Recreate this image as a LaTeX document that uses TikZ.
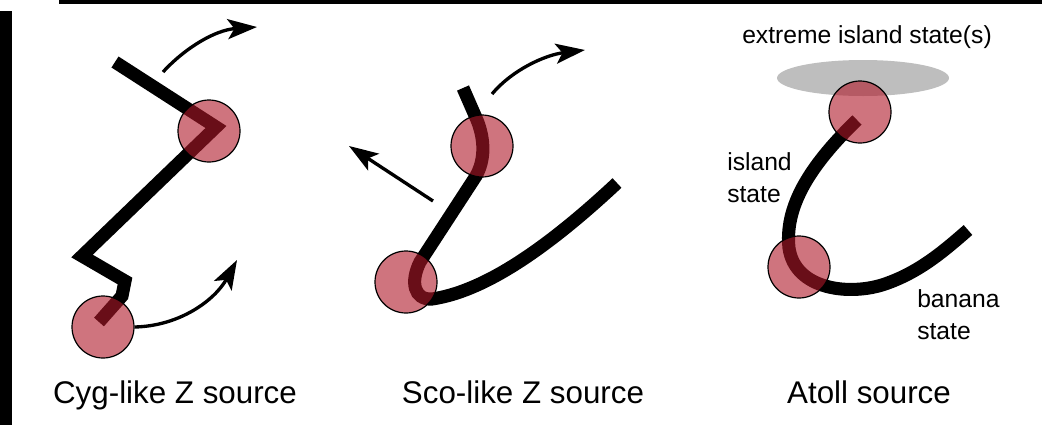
\documentclass[tikz,border=0pt]{standalone}
\usepackage{fontspec}
\setmainfont{Liberation Sans}
\usetikzlibrary{arrows.meta, positioning}

\definecolor{statered}{RGB}{175,24,40}
\definecolor{islandgray}{RGB}{190,190,190}

\begin{document}
\begin{tikzpicture}[
		x=0.75pt, y=-0.75pt,
		>={Stealth[length=22pt, width=15pt, inset=5pt]},
		track/.style={line width=9.8pt, line join=miter, line cap=butt},
		statecirc/.style={circle, draw=black, line width=0.9pt, fill=statered, fill opacity=0.6, minimum size=46.5pt, inner sep=0pt},
		motion/.style={->, line width=2.5pt},
		caption/.style={font=\fontsize{23.5}{28}\selectfont, anchor=base},
		note/.style={font=\fontsize{18.5}{24.5}\selectfont, align=left, inner sep=0pt}
		]
		\useasboundingbox (0,0) rectangle (1042,425);
		
		% =========================================================
		% 0. Frame pieces
		% =========================================================
		\fill[black] (0,11) rectangle (12,425);
		\fill[black] (59,0) rectangle (1042,4);
		
		% =========================================================
		% 1. Cyg-like Z source
		% =========================================================
		\draw[track] (115,62) -- (216,127) -- (82,256) -- (125,281) -- (122,296) -- (99,322);
		
		\node[statecirc] (CygTop) at (209,131) {};
		\node[statecirc] (CygBot) at (103,327) {};
		
		\coordinate (CygUpFrom) at (163,72);
		\coordinate (CygUpTo) at (257,27);
		\coordinate (CygLowTo) at (237,260);
		\draw[motion] (CygUpFrom) .. controls (185,48) and (215,30) .. (CygUpTo);
		\draw[motion] (CygBot.east) .. controls (180,326) and (215,300) .. (CygLowTo);
		
		\node[caption] (CygLabel) at (175,403) {Cyg-like Z source};
		
		% =========================================================
		% 2. Sco-like Z source
		% =========================================================
		\draw[track] (463,88) -- (477,120) .. controls (485,140) and (485,160) .. (476,176)
			-- (420,262) .. controls (410,282) and (414,300) .. (432,299)
			.. controls (480,292) and (540,255) .. (617,183);
		
		\node[statecirc] (ScoTop) at (482,146) {};
		\node[statecirc] (ScoBot) at (406,282) {};
		
		\coordinate (ScoUpFrom) at (492,94);
		\coordinate (ScoUpTo) at (585,50);
		\coordinate (ScoLeftFrom) at (433,201);
		\coordinate (ScoLeftTo) at (349,146);
		\draw[motion] (ScoUpFrom) .. controls (512,70) and (545,55) .. (ScoUpTo);
		\draw[motion] (ScoLeftFrom) -- (ScoLeftTo);
		
		\node[caption] (ScoLabel) at (523,403) {Sco-like Z source};
		
		% =========================================================
		% 3. Atoll source
		% =========================================================
		\fill[islandgray] (863,78) ellipse [x radius=86, y radius=18];
		
		\draw[track] (857,120) .. controls (805,170) and (785,210) .. (789,248)
			.. controls (795,290) and (850,296) .. (885,284)
			.. controls (920,272) and (945,250) .. (968,230);
		
		\node[statecirc] (AtollTop) at (860,112) {};
		\node[statecirc] (AtollBot) at (799,267) {};
		
		\node[note, anchor=base] (Extreme) at (867,43) {extreme island state(s)};
		\node[note, anchor=north west] (Island) at (727,152) {island\\state};
		\node[note, anchor=north west] (Banana) at (917,289) {banana\\state};
		
		\node[caption] (AtollLabel) at (869,403) {Atoll source};
	\end{tikzpicture}
\end{document}
